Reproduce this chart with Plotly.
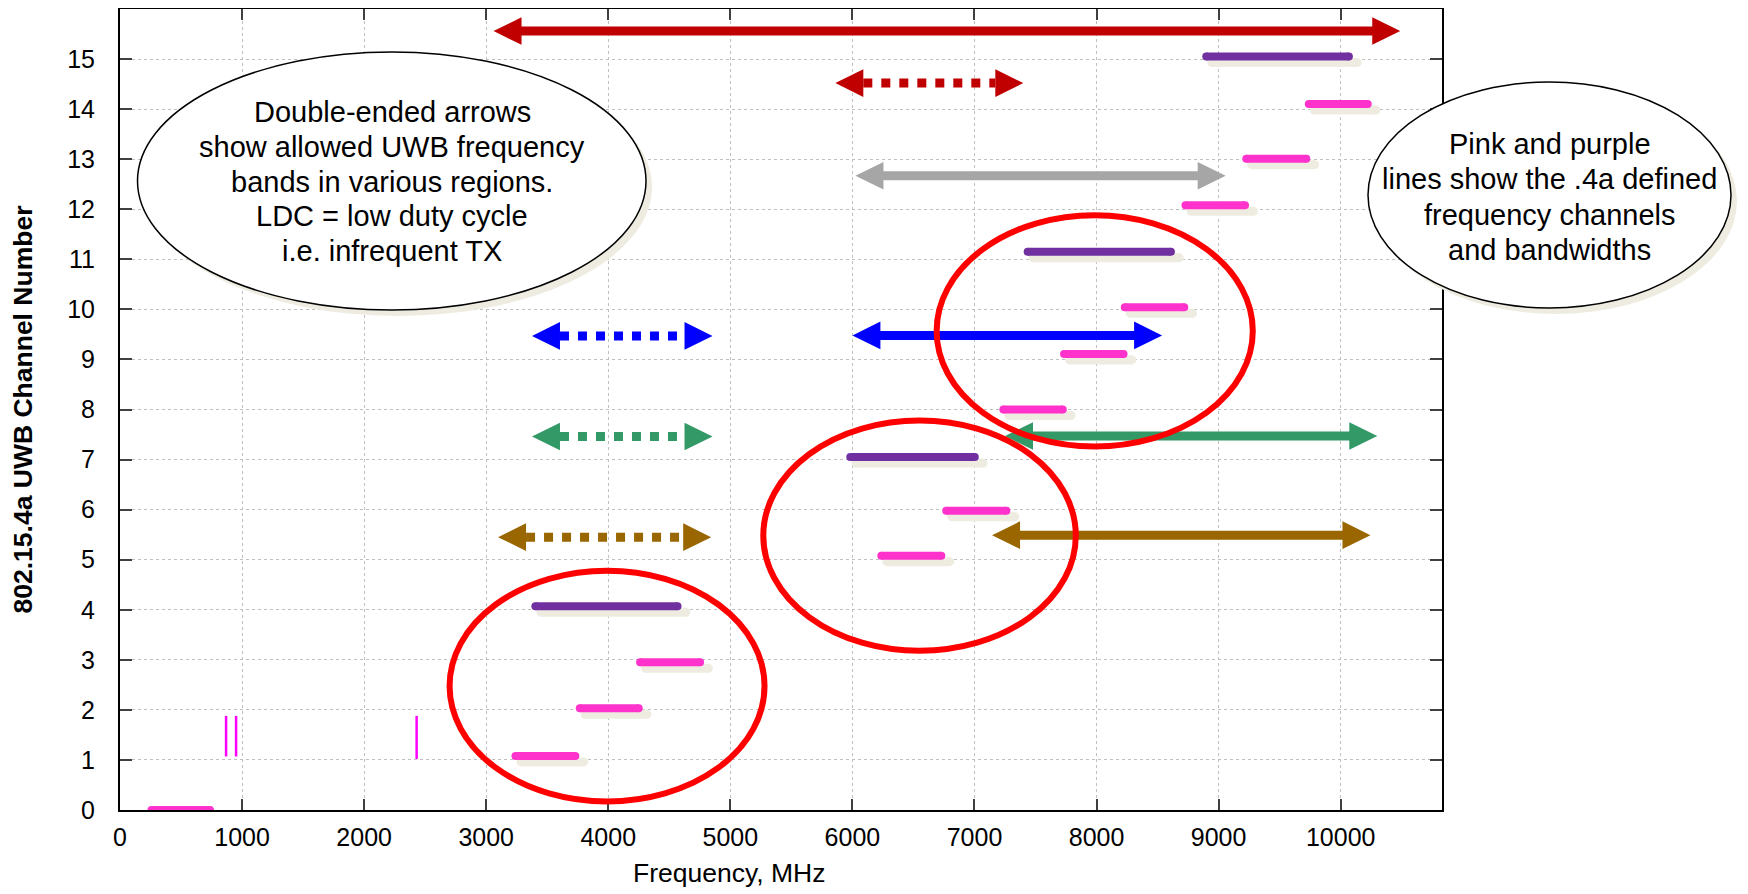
import plotly.graph_objects as go

# ---------------- data ----------------
# 802.15.4a channel lines (frequency span in MHz, vertical position = channel number)
ch_num = list(range(16))
ch_y = [0.0, 1.08, 2.03, 2.95, 4.07, 5.08, 5.98, 7.05, 8.0, 9.11, 10.04, 11.15, 12.08, 13.01, 14.10, 15.05]
ch_lo = [225, 3207, 3734, 4228, 3370, 6204, 6736, 5950, 7204, 7701, 8199, 7403, 8696, 9194, 9706, 8866]
ch_hi = [770, 3763, 4282, 4785, 4600, 6761, 7294, 7035, 7756, 8254, 8751, 8642, 9249, 9751, 10254, 10100]
ch_kind = ["pink", "pink", "pink", "pink", "purple", "pink", "pink", "purple",
           "pink", "pink", "pink", "purple", "pink", "pink", "pink", "purple"]

# Regional allowed-band arrows
arrow_lo = [3060, 5860, 6025, 3375, 6000, 3375, 7250, 3097, 7144]
arrow_hi = [10488, 7400, 9058, 4854, 8537, 4854, 10300, 4843, 10244]
arrow_y = [15.56, 14.52, 12.67, 9.47, 9.48, 7.46, 7.47, 5.45, 5.49]
arrow_color = ["#C00000", "#C00000", "#A6A6A6", "#0000FF", "#0000FF",
               "#339966", "#339966", "#996600", "#996600"]
arrow_dash = ["solid", "dot", "solid", "dot", "solid", "dot", "solid", "dot", "solid"]

# narrow-band markers (vertical magenta lines)
vline_x = [869, 951, 2430]
vline_y0 = [1.07, 1.07, 1.02]
vline_y1 = [1.88, 1.88, 1.88]

# red highlight ellipses (data coords)
circ_x0 = [2700, 5270, 6690]
circ_x1 = [5280, 7830, 9280]
circ_y0 = [0.17, 3.18, 7.26]
circ_y1 = [4.78, 7.78, 11.88]

x_ticks = list(range(0, 10001, 1000))
y_ticks = list(range(0, 16))

x_title = "Frequency, MHz"
y_title = "802.15.4a UWB Channel Number"
left_lines = ["Double-ended arrows", "show allowed UWB frequency", "bands in various regions.",
              "LDC = low duty cycle", "i.e. infrequent TX"]
right_lines = ["Pink and purple", "lines show the .4a defined", "frequency channels", "and bandwidths"]

# ---------------- styling / layout geometry ----------------
FONT = "Arial, Liberation Sans, sans-serif"
colors = {"pink": "#FF33CC", "purple": "#7030A0"}
SHADOW = "#EEECE1"
W, H = 1740, 886
ML, MR, MT, MB = 112, 306, 1, 84
PW, PH = W - ML - MR, H - MT - MB
X_RANGE = [0, 10830]
Y_RANGE = [0, 16]
px_per_x = PW / (X_RANGE[1] - X_RANGE[0])
px_per_y = PH / (Y_RANGE[1] - Y_RANGE[0])

shadow_dx = 5.5 / px_per_x
shadow_dy = 6 / px_per_y
head_len = 28 / px_per_x
head_half = 13.8 / px_per_y
cap = 4 / px_per_x            # round line-cap radius in x units

def py_to_paper(py):          # py measured from top of the plot area
    return 1 - py / PH

def px_to_paper(px):          # px measured from left of the plot area
    return px / PW

fig = go.Figure()

# shadows of channel lines (rounded ends)
for lo, hi, y in zip(ch_lo, ch_hi, ch_y):
    fig.add_trace(go.Scatter(x=[lo + shadow_dx + cap, hi + shadow_dx * 1.5 - cap],
                             y=[y - shadow_dy, y - shadow_dy],
                             mode="lines+markers", line=dict(color=SHADOW, width=9),
                             marker=dict(symbol="circle", size=9, color=SHADOW, line=dict(width=0)),
                             hoverinfo="skip", showlegend=False))

# channel lines (rounded ends)
for n, lo, hi, y, k in zip(ch_num, ch_lo, ch_hi, ch_y, ch_kind):
    fig.add_trace(go.Scatter(x=[lo + cap, hi - cap], y=[y, y], mode="lines+markers",
                             line=dict(color=colors[k], width=8),
                             marker=dict(symbol="circle", size=8, color=colors[k], line=dict(width=0)),
                             name=f"Ch {n}", showlegend=False))

# vertical narrow-band lines
for x, y0, y1 in zip(vline_x, vline_y0, vline_y1):
    fig.add_trace(go.Scatter(x=[x, x], y=[y0, y1], mode="lines",
                             line=dict(color="#FF00FF", width=2.5),
                             hoverinfo="skip", showlegend=False))

# arrows: shaft + two triangular heads
for lo, hi, y, c, d in zip(arrow_lo, arrow_hi, arrow_y, arrow_color, arrow_dash):
    inset = head_len if d == "dot" else head_len * 0.5
    fig.add_trace(go.Scatter(x=[lo + inset, hi - inset], y=[y, y], mode="lines",
                             line=dict(color=c, width=9, dash=d),
                             hoverinfo="skip", showlegend=False))
    fig.add_trace(go.Scatter(
        x=[lo, lo + head_len, lo + head_len, lo, None, hi, hi - head_len, hi - head_len, hi],
        y=[y, y + head_half, y - head_half, y, None, y, y + head_half, y - head_half, y],
        mode="lines", fill="toself", fillcolor=c, line=dict(width=0, color=c),
        hoverinfo="skip", showlegend=False))

shapes = []
# red ellipses
for x0, x1, y0, y1 in zip(circ_x0, circ_x1, circ_y0, circ_y1):
    shapes.append(dict(type="circle", xref="x", yref="y", x0=x0, x1=x1, y0=y0, y1=y1,
                       line=dict(color="#FF0000", width=6), layer="above"))

# text ellipses (pixel positions relative to plot area -> paper), with beige shadow
def text_ellipse(px0, px1, py0, py1):
    shapes.append(dict(type="circle", xref="paper", yref="paper",
                       x0=px_to_paper(px0 + 6), x1=px_to_paper(px1 + 6),
                       y0=py_to_paper(py1 + 6), y1=py_to_paper(py0 + 6),
                       fillcolor=SHADOW, line=dict(width=0), layer="above"))
    shapes.append(dict(type="circle", xref="paper", yref="paper",
                       x0=px_to_paper(px0), x1=px_to_paper(px1),
                       y0=py_to_paper(py1), y1=py_to_paper(py0), fillcolor="white",
                       line=dict(color="black", width=1.5), layer="above"))

text_ellipse(17.5, 526, 43, 301)
text_ellipse(1248, 1611, 73, 299)

annotations = []
for i, t in enumerate(left_lines):
    annotations.append(dict(text=t, xref="paper", yref="paper",
                            x=px_to_paper(272), y=py_to_paper(103.5 + 34.6 * i),
                            xanchor="center", yanchor="middle", showarrow=False,
                            font=dict(family=FONT, size=29, color="black")))
for i, t in enumerate(right_lines):
    annotations.append(dict(text=t, xref="paper", yref="paper",
                            x=px_to_paper(1430), y=py_to_paper(135 + 35.3 * i),
                            xanchor="center", yanchor="middle", showarrow=False,
                            font=dict(family=FONT, size=29, color="black")))
# x-axis title (placed slightly left of centre, as in the reference)
annotations.append(dict(text=x_title, xref="paper", yref="paper",
                        x=px_to_paper(609), y=py_to_paper(PH + 63),
                        xanchor="center", yanchor="middle", showarrow=False,
                        font=dict(family=FONT, size=26.5, color="black")))

fig.update_layout(
    width=W, height=H,
    margin=dict(l=ML, r=MR, t=MT, b=MB),
    paper_bgcolor="white", plot_bgcolor="white",
    showlegend=False,
    shapes=shapes, annotations=annotations,
    font=dict(family=FONT, color="black"),
    xaxis=dict(range=X_RANGE, tickvals=x_ticks, ticktext=[str(v) for v in x_ticks],
               ticks="inside", ticklen=11, tickwidth=1.5, tickcolor="#404040",
               showline=True, linecolor="black", linewidth=2, mirror="ticks",
               showgrid=True, gridcolor="#BFBFBF", griddash="dot", gridwidth=1,
               zeroline=False, tickfont=dict(size=25, family=FONT, color="black"),
               ticklabelstandoff=4, automargin=False),
    yaxis=dict(range=Y_RANGE, tickvals=y_ticks, ticktext=[str(v) for v in y_ticks],
               ticks="inside", ticklen=12, tickwidth=1.5, tickcolor="#404040",
               showline=True, linecolor="black", linewidth=2, mirror="ticks",
               showgrid=True, gridcolor="#BFBFBF", griddash="dot", gridwidth=1,
               zeroline=False, tickfont=dict(size=25, family=FONT, color="black"),
               ticklabelstandoff=18, automargin=False,
               title=dict(text=f"<b>{y_title}</b>",
                          font=dict(size=26.5, family=FONT, color="black"), standoff=34)),
)

fig.write_html("out.html")
